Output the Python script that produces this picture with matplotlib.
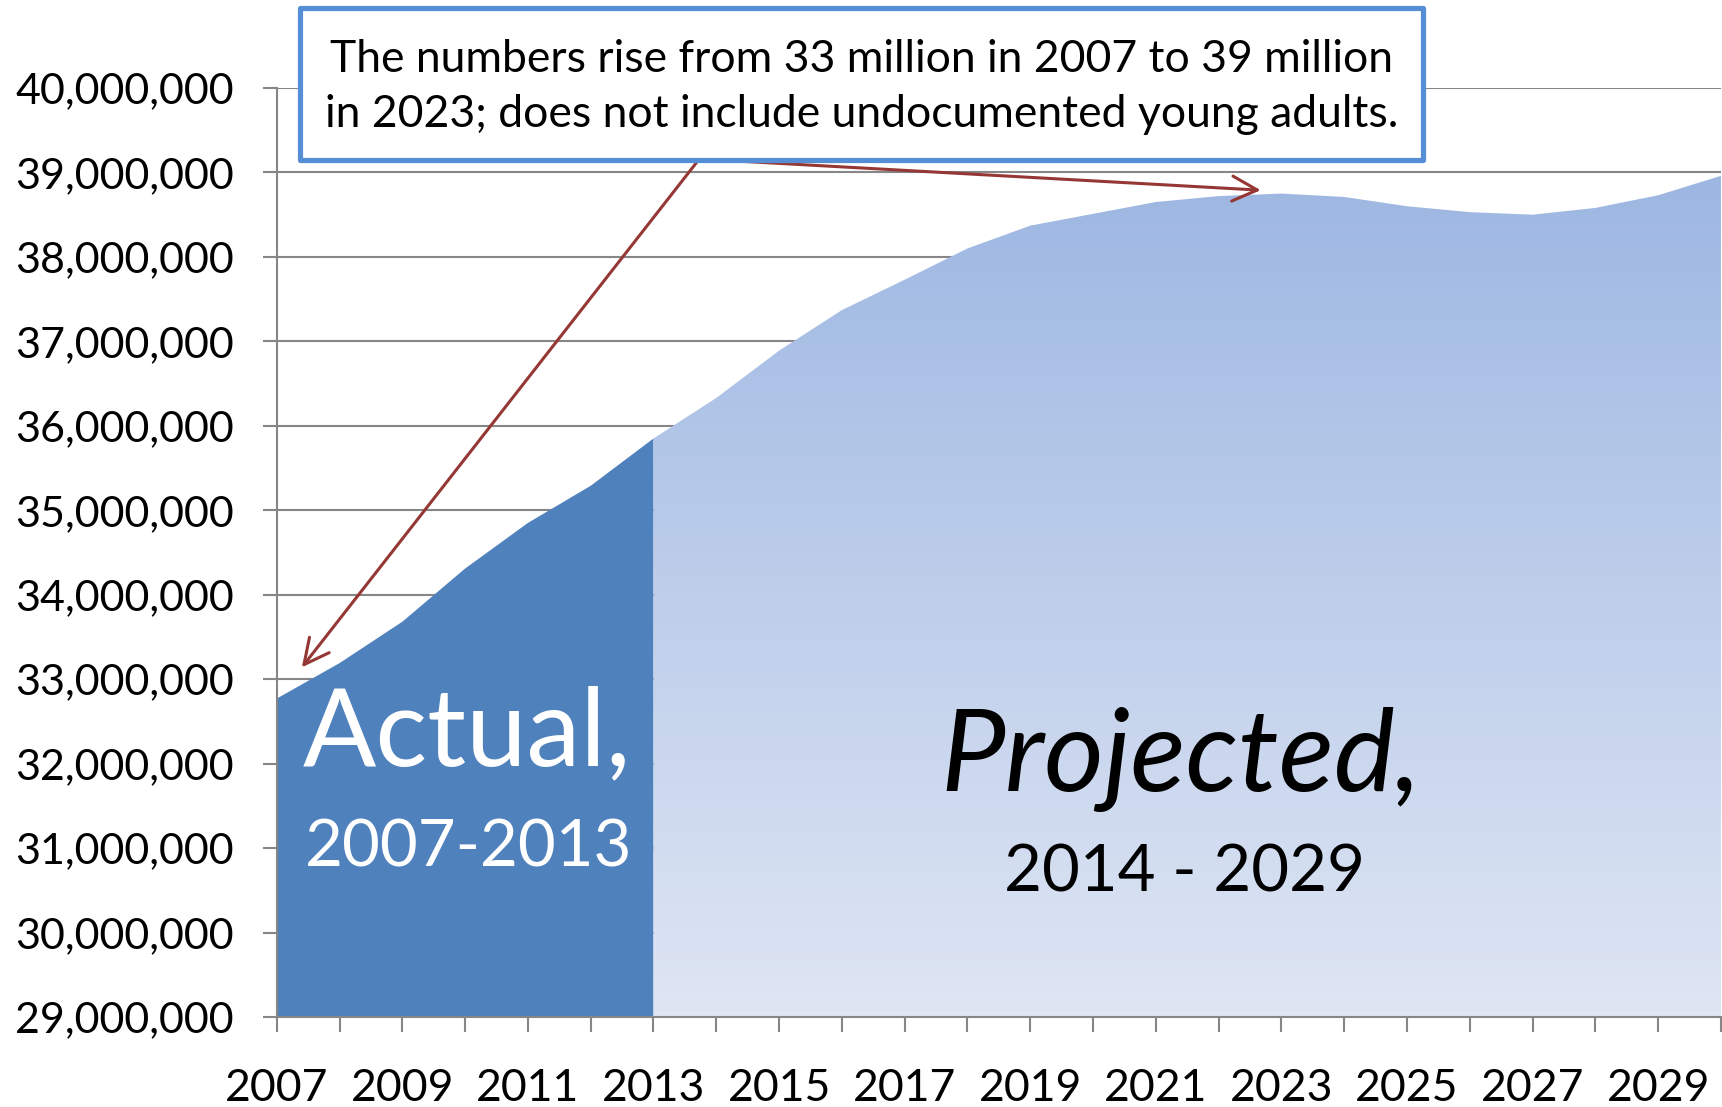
import numpy as np
import matplotlib.pyplot as plt
from matplotlib.patches import Rectangle
from matplotlib.colors import LinearSegmentedColormap
from matplotlib.ticker import FuncFormatter

plt.rcParams['font.family'] = ['Lato', 'DejaVu Sans']

# 年轻人口数量（实际 2007-2013，预测 2013-2030）
years_actual = [2007, 2008, 2009, 2010, 2011, 2012, 2013]
values_actual = [32.77e6, 33.19e6, 33.68e6, 34.31e6, 34.85e6, 35.29e6, 35.85e6]

years_proj = [2013, 2014, 2015, 2016, 2017, 2018, 2019, 2020, 2021, 2022,
              2023, 2024, 2025, 2026, 2027, 2028, 2029, 2030]
values_proj = [35.85e6, 36.33e6, 36.89e6, 37.37e6, 37.73e6, 38.10e6, 38.37e6,
               38.51e6, 38.65e6, 38.72e6, 38.75e6, 38.71e6, 38.60e6, 38.53e6,
               38.50e6, 38.58e6, 38.73e6, 38.96e6]

y_min, y_max = 29e6, 40e6
x_ticks = list(range(2007, 2031))
x_labels = [str(y) if (y - 2007) % 2 == 0 else "" for y in x_ticks]

note = ("The numbers rise from 33 million in 2007 to 39 million\n"
        "in 2023; does not include undocumented young adults.")

grey = "#868686"
dark_blue = "#4F81BD"
arrow_red = "#953735"
box_blue = "#558ED5"

fig = plt.figure(figsize=(17.22, 11.07), dpi=100)
ax = fig.add_axes([0.1607, 0.0813, 0.8387, 0.8392])
ax.set_xlim(2007, 2030)
ax.set_ylim(y_min, y_max)

# 网格线在面积图下面
ax.set_axisbelow(True)
ax.yaxis.grid(True, color=grey, linewidth=1.5)
ax.set_yticks(np.arange(y_min, y_max + 1, 1e6))
ax.yaxis.set_major_formatter(FuncFormatter(lambda v, p: f"{int(v):,}"))

ax.set_xticks(x_ticks)
ax.set_xticklabels(x_labels)

for s in ["top", "right"]:
    ax.spines[s].set_visible(False)
for s in ["left", "bottom"]:
    ax.spines[s].set_color(grey)
    ax.spines[s].set_linewidth(1.5)
    ax.spines[s].set_zorder(5)

ax.tick_params(axis="y", length=10, width=1.5, color=grey, pad=21, labelsize=31)
ax.tick_params(axis="x", length=11, width=1.5, color=grey, pad=26, labelsize=32)

# 实际部分：纯色
ax.fill_between(years_actual, values_actual, y_min, facecolor=dark_blue,
                edgecolor="none", zorder=2)

# 预测部分：竖直渐变，裁剪到面积形状
shape = ax.fill_between(years_proj, values_proj, y_min, facecolor="none",
                        edgecolor="none", zorder=2)
cmap = LinearSegmentedColormap.from_list("proj", ["#DFE6F4", "#9DB7E2"])
grad = np.linspace(0, 1, 256).reshape(-1, 1)
im = ax.imshow(grad, cmap=cmap, origin="lower", aspect="auto",
               extent=[years_proj[0], years_proj[-1], y_min, max(values_proj)],
               zorder=2, interpolation="bicubic")
im.set_clip_path(shape.get_paths()[0], transform=ax.transData)
ax.set_xlim(2007, 2030)
ax.set_ylim(y_min, y_max)

# 区段文字
ax.text(2010.03, 31.98e6, "Actual,", color="white", fontsize=78,
        ha="center", va="baseline", zorder=4)
ax.text(2010.05, 30.78e6, "2007-2013", color="white", fontsize=47,
        ha="center", va="baseline", zorder=4)
ax.text(2021.4, 31.68e6, "Projected,", color="black", fontsize=83,
        style="italic", ha="center", va="baseline", zorder=4)
ax.text(2021.45, 30.49e6, "2014 - 2029", color="black", fontsize=47,
        ha="center", va="baseline", zorder=4)

# 说明框和两支箭头
start = (2013.73, 39.16e6)
for end in [(2007.40, 33.14e6), (2022.67, 38.79e6)]:
    ax.annotate("", xy=end, xytext=start, annotation_clip=False,
                arrowprops=dict(arrowstyle="->,head_length=0.6,head_width=0.3",
                                mutation_scale=30, color=arrow_red,
                                linewidth=2.2, shrinkA=0, shrinkB=0),
                zorder=6)

fig.patches.append(Rectangle((0.1742, 0.8555), 0.6521, 0.1373,
                             transform=fig.transFigure, facecolor="white",
                             edgecolor=box_blue, linewidth=3.75,
                             joinstyle="round", zorder=7))
fig.text(0.5003, 0.9215, note, ha="center", va="center", fontsize=32,
         linespacing=1.42, zorder=8)

fig.savefig("out.png", dpi=100)
